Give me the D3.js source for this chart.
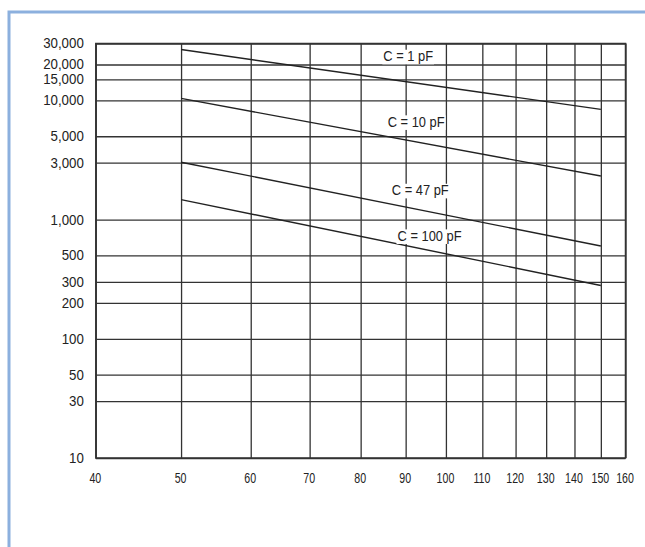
<!DOCTYPE html>
<html>
<head>
<meta charset="utf-8">
<script src="https://d3js.org/d3.v7.min.js"></script>
<style>
  body { margin: 0; background: #fff; }
  text { font-family: "Liberation Sans", Arial, sans-serif; }
</style>
</head>
<body>
<div id="chart"></div>
<script>
// data (log x, log y)
const xTicks = [40, 50, 60, 70, 80, 90, 100, 110, 120, 130, 140, 150, 160];
const yTicks = [10, 30, 50, 100, 200, 300, 500, 1000, 3000, 5000, 10000, 15000, 20000, 30000];

const seriesNames = ["C = 1 pF", "C = 10 pF", "C = 47 pF", "C = 100 pF"];
const seriesX = [50, 150];
const seriesY = [
  [26700, 8400],
  [10400, 2320],
  [3030, 600],
  [1470, 280]
];
// where each label sits (data units: centre x, baseline y)
const labelX = [90.6, 92.5, 93.5, 95.8];
const labelY = [21300, 6000, 1600, 663];

const W = 645, H = 547;
const margin = { top: 43.5, right: 19.5, bottom: 89, left: 95.8 };
const width = W - margin.left - margin.right,
      height = H - margin.top - margin.bottom;

const svg = d3.select("#chart").append("svg")
  .attr("width", W)
  .attr("height", H);

// blue frame (left + top edges)
svg.append("path")
  .attr("d", `M9,${H}V12H${W}`)
  .attr("fill", "none")
  .attr("stroke", "#8cb0de")
  .attr("stroke-width", 3);

const g = svg.append("g")
  .attr("transform", `translate(${margin.left},${margin.top})`);

const x = d3.scaleLog().domain([40, 160]).range([0, width]);
const y = d3.scaleLog().domain([10, 30000]).range([height, 0]);

// grid + x labels
const xAxis = g.append("g")
  .attr("transform", `translate(0,${height})`)
  .call(d3.axisBottom(x)
    .tickValues(xTicks)
    .tickFormat(d3.format("d"))
    .tickSize(-height)
    .tickSizeOuter(0)
    .tickPadding(15));

const yAxis = g.append("g")
  .call(d3.axisLeft(y)
    .tickValues(yTicks)
    .tickFormat(d3.format(","))
    .tickSize(-width)
    .tickSizeOuter(0)
    .tickPadding(12));

[xAxis, yAxis].forEach(a => {
  a.select(".domain").remove();
  a.selectAll(".tick line").attr("stroke", "#333").attr("stroke-width", 1.3);
  a.selectAll(".tick text").attr("fill", "#222").style("font-size", "14px");
});
// condensed look
xAxis.selectAll(".tick text")
  .attr("dx", "-1.3")
  .attr("transform", "scale(0.76,1)");
yAxis.selectAll(".tick text")
  .attr("x", 0)
  .attr("transform", "translate(-12,0) scale(0.95,1)");

// outer frame
g.append("rect")
  .attr("width", width)
  .attr("height", height)
  .attr("fill", "none")
  .attr("stroke", "#333")
  .attr("stroke-width", 1.5);

// curves
const line = d3.line()
  .x((d, i) => x(seriesX[i]))
  .y(d => y(d));

g.selectAll(".curve")
  .data(seriesY)
  .join("path")
  .attr("class", "curve")
  .attr("d", d => line(d))
  .attr("fill", "none")
  .attr("stroke", "#222")
  .attr("stroke-width", 1.4);

// labels with white backing
const labels = g.selectAll(".lab")
  .data(seriesNames)
  .join("g")
  .attr("class", "lab")
  .attr("transform", (d, i) => `translate(${x(labelX[i])},${y(labelY[i])})`);

labels.append("text")
  .attr("text-anchor", "middle")
  .attr("transform", "scale(0.92,1)")
  .attr("fill", "#222")
  .style("font-size", "14px")
  .text(d => d);

labels.each(function () {
  const b = d3.select(this).select("text").node().getBBox();
  d3.select(this).insert("rect", "text")
    .attr("x", b.x * 0.92 - 1)
    .attr("y", b.y + 1)
    .attr("width", b.width * 0.92 + 2)
    .attr("height", b.height - 1)
    .attr("fill", "#fff");
});
</script>
</body>
</html>
